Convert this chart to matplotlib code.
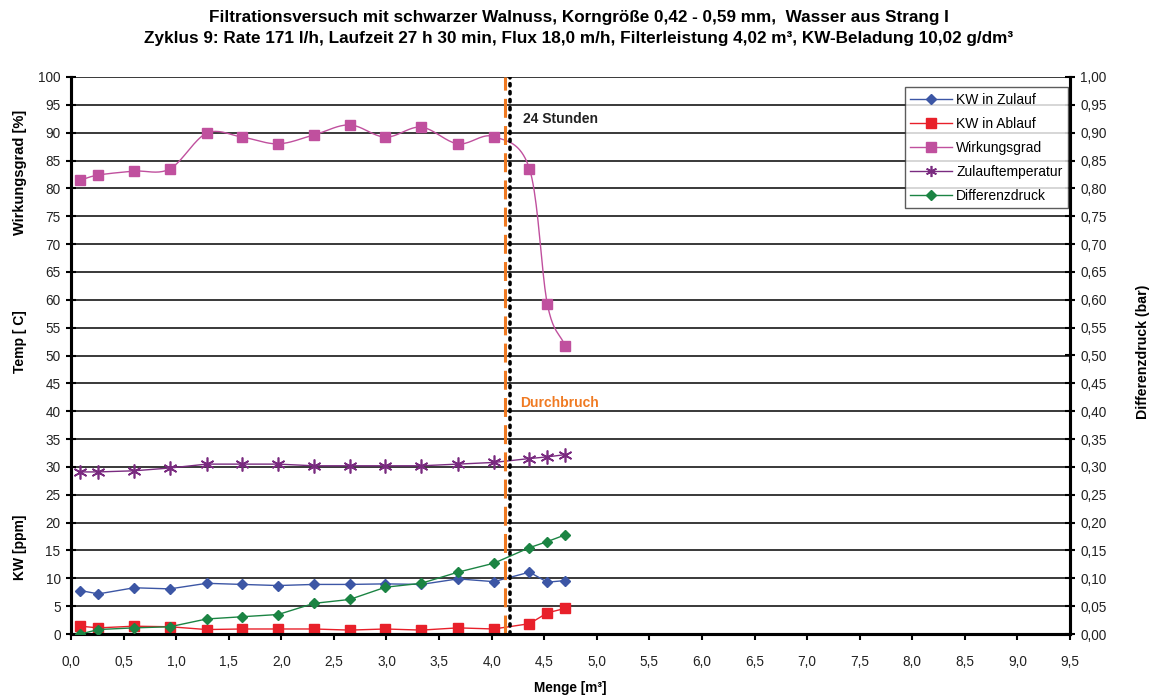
import numpy as np
import matplotlib
matplotlib.use("Agg")
import matplotlib.pyplot as plt
from matplotlib.ticker import FuncFormatter, MultipleLocator
from matplotlib.lines import Line2D

plt.rcParams['font.family'] = ['Liberation Sans', 'DejaVu Sans']

# ---- data ----
menge = [0.09, 0.26, 0.60, 0.94, 1.29, 1.63, 1.97, 2.31, 2.65, 2.99, 3.33, 3.68, 4.02, 4.36, 4.53, 4.70]
kw_zulauf = [7.8, 7.2, 8.3, 8.1, 9.1, 8.9, 8.7, 8.9, 8.9, 9.0, 8.9, 9.9, 9.4, 11.1, 9.3, 9.6]
kw_ablauf = [1.4, 1.1, 1.4, 1.3, 0.8, 0.9, 0.9, 0.9, 0.7, 0.9, 0.7, 1.1, 0.9, 1.85, 3.8, 4.6]
wirkungsgrad = [81.5, 82.4, 83.1, 83.5, 89.9, 89.2, 88.0, 89.6, 91.4, 89.2, 91.0, 88.0, 89.3, 83.5, 59.2, 51.7]
temperatur = [29.1, 29.1, 29.3, 29.8, 30.5, 30.5, 30.5, 30.2, 30.2, 30.2, 30.2, 30.5, 30.8, 31.5, 31.8, 32.2]
differenzdruck = [0.000, 0.008, 0.011, 0.013, 0.027, 0.031, 0.035, 0.055, 0.062, 0.084, 0.091, 0.111, 0.127, 0.155, 0.166, 0.178]
durchbruch_x = 4.13
stunden24_x = 4.17

title = ("Filtrationsversuch mit schwarzer Walnuss, Korngröße 0,42 - 0,59 mm,  Wasser aus Strang I\n"
         "Zyklus 9: Rate 171 l/h, Laufzeit 27 h 30 min, Flux 18,0 m/h, Filterleistung 4,02 m³, KW-Beladung 10,02 g/dm³")

c_zu = '#3C56A5'
c_ab = '#E8202A'
c_wg = '#C0509E'
c_temp = '#7A2B80'
c_dp = '#1B8443'
c_orange = '#F07A22'


def catmull_rom(x, y, n=20):
    x = np.asarray(x, float); y = np.asarray(y, float)
    P = np.column_stack([x, y])
    P = np.vstack([P[0] - (P[1] - P[0]), P, P[-1] + (P[-1] - P[-2])])
    out = []
    for i in range(1, len(P) - 2):
        p0, p1, p2, p3 = P[i - 1], P[i], P[i + 1], P[i + 2]
        t = np.linspace(0, 1, n, endpoint=False)[:, None]
        pts = 0.5 * ((2 * p1) + (-p0 + p2) * t + (2 * p0 - 5 * p1 + 4 * p2 - p3) * t ** 2
                     + (-p0 + 3 * p1 - 3 * p2 + p3) * t ** 3)
        out.append(pts)
    out.append(P[-2][None, :])
    out = np.vstack(out)
    return out[:, 0], out[:, 1]


fig = plt.figure(figsize=(11.57, 6.95), dpi=100)
ax = fig.add_axes([71 / 1157, 1 - 634 / 695, (1070 - 71) / 1157, (634 - 77) / 695])
ax2 = ax.twinx()

ax.set_xlim(0, 9.5)
ax.set_ylim(0, 100)
ax2.set_ylim(0, 1.0)

for v in np.arange(5, 101, 5):
    ax.axhline(v, color='#2a2a2a', lw=1.3, zorder=1)

ax.plot(menge, kw_zulauf, color=c_zu, lw=1.0, marker='D', ms=5.5, zorder=4)
ax.plot(menge, kw_ablauf, color=c_ab, lw=1.0, marker='s', ms=7, ls='none', zorder=4)
ax.plot(menge, kw_ablauf, color=c_ab, lw=1.0, zorder=3)
sx, sy = catmull_rom(menge, wirkungsgrad)
ax.plot(sx, sy, color=c_wg, lw=1.0, zorder=3)
ax.plot(menge, wirkungsgrad, color=c_wg, marker='s', ms=7, ls='none', zorder=4)
ax.plot(menge, temperatur, color=c_temp, lw=1.0, marker=(6, 2, 0), ms=10, mew=1.2, zorder=4)
ax2.plot(menge, differenzdruck, color=c_dp, lw=1.0, marker='D', ms=5.5, zorder=4)

ax.axvline(durchbruch_x, color=c_orange, lw=2.2, ls=(0, (6.2, 2.7)), zorder=5)
ax.axvline(stunden24_x, color='black', lw=2.6, ls=(0, (0.6, 1.6)), dash_capstyle='round', zorder=5)

ax.text(4.3, 92.5, "24 Stunden", fontsize=10, fontweight='bold', color='#222222', va='center', zorder=6)
ax.text(4.27, 41.5, "Durchbruch", fontsize=10, fontweight='bold', color=c_orange, va='center', zorder=6)

# axes styling
for a in (ax, ax2):
    a.spines['top'].set_visible(False)
    a.spines['left'].set_linewidth(2.2)
    a.spines['right'].set_linewidth(2.2)
    a.spines['bottom'].set_linewidth(2.2)

ax.xaxis.set_major_locator(MultipleLocator(0.5))
ax.yaxis.set_major_locator(MultipleLocator(5))
ax2.yaxis.set_major_locator(MultipleLocator(0.05))
ax.xaxis.set_major_formatter(FuncFormatter(lambda v, p: f"{v:.1f}".replace('.', ',')))
ax2.yaxis.set_major_formatter(FuncFormatter(lambda v, p: f"{v:.2f}".replace('.', ',')))
ax.tick_params(axis='x', direction='out', length=4, width=1.5, labelsize=9.8, pad=11, colors='black')
ax.tick_params(axis='y', direction='inout', length=7, width=1.5, labelsize=9.8, pad=4)
ax2.tick_params(axis='y', direction='inout', length=7, width=1.5, labelsize=9.8, pad=4)
for lab in ax.get_xticklabels() + ax.get_yticklabels() + ax2.get_yticklabels():
    lab.set_color('#222222')

ax.set_xlabel("Menge [m³]", fontsize=9.8, fontweight='bold', labelpad=9)

fig.text(20 / 1157, 1 - 172 / 695, "Wirkungsgrad [%]", rotation=90, fontsize=10.5, fontweight='bold', ha='center', va='center')
fig.text(20 / 1157, 1 - 342 / 695, "Temp [ C]", rotation=90, fontsize=10, fontweight='bold', ha='center', va='center')
fig.text(20 / 1157, 1 - 547 / 695, "KW [ppm]", rotation=90, fontsize=10, fontweight='bold', ha='center', va='center')
fig.text(1143 / 1157, 1 - 352 / 695, "Differenzdruck (bar)", rotation=90, fontsize=10.2, fontweight='bold', ha='center', va='center')

fig.text(579 / 1157, 1 - 28 / 695, title, ha='center', va='center', fontsize=12.3, fontweight='bold',
         linespacing=1.45, family=['Liberation Sans Narrow', 'Liberation Sans', 'DejaVu Sans'])

handles = [
    Line2D([], [], color=c_zu, lw=1.0, marker='D', ms=5),
    Line2D([], [], color=c_ab, lw=1.0, marker='s', ms=6.5),
    Line2D([], [], color=c_wg, lw=1.0, marker='s', ms=6.5),
    Line2D([], [], color=c_temp, lw=1.0, marker=(6, 2, 0), ms=8, mew=1.2),
    Line2D([], [], color=c_dp, lw=1.0, marker='D', ms=5),
]
labels = ["KW in Zulauf", "KW in Ablauf", "Wirkungsgrad", "Zulauftemperatur", "Differenzdruck"]
leg = ax2.legend(handles, labels, loc='upper right', bbox_to_anchor=(1068 / 1157, 1 - 87 / 695),
                 bbox_transform=fig.transFigure, fontsize=10, frameon=True, fancybox=False,
                 edgecolor='#333333', handlelength=3.0, handletextpad=0.3, borderpad=0.4,
                 labelspacing=0.72, borderaxespad=0)
leg.get_frame().set_linewidth(1.0)
leg.set_zorder(10)

fig.savefig("out.png", dpi=100)
